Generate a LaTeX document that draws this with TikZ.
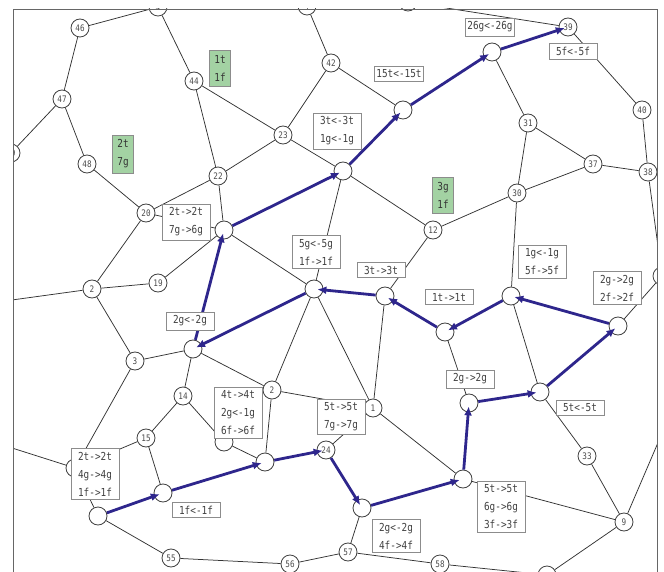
\documentclass[tikz,border=0pt]{standalone}
\usepackage{fontspec}
\usepackage{xcolor}
\usetikzlibrary{arrows.meta}
\newfontfamily\lblfont[FakeStretch=0.85]{DejaVu Sans Mono}
\definecolor{walkblue}{RGB}{46,38,140}
\definecolor{hintgreen}{RGB}{163,210,163}

\begin{document}
\begin{tikzpicture}[x=1pt,y=-1pt,
    vtx/.style={circle,draw=black!75,fill=white,minimum size=18pt,inner sep=0pt,line width=0.8pt,
        font=\lblfont\fontsize{9}{9}\selectfont,text=black!70},
    tag/.style={draw=black!45,fill=white,minimum width=48pt,inner xsep=2pt,inner ysep=3.5pt,
        align=center,font=\lblfont\fontsize{11}{18}\selectfont,text=black!75},
    hint/.style={tag,fill=hintgreen,minimum width=0pt,inner xsep=5pt,inner ysep=5pt,text=black!80},
    edge/.style={draw=black!80,line width=0.75pt},
    walk/.style={draw=walkblue,line width=2.8pt,-{Latex[length=9pt,width=8pt]},shorten >=-6pt}]

    \useasboundingbox (0,0) rectangle (664,572);
    \begin{scope}
    \clip (13,9) rectangle (657,580);

    % Draw the numbered vertices
    \foreach \n/\x/\y/\t in {n46/80/28/46, n47/62/99/47, n49/11/153/49, n48/87/164/48,
        n44/194/81/44, n22/218/176/22, n4/158/7/4, n42/331/63/42, n23/283/135/23,
        n43/307/6/4, n31/528/123/31, n37/593/164/37, n38/648/172/38, n40/642/110/40,
        n30/517/193/30, n12/433/230/12, n20/146/213/20, n19/158/283/19, n2/92/289/2,
        n3/135/361/3, n14/183/396/14, n15/146/438/15, n55/171/558/55, n56/290/564/56,
        n57/348/552/57, n58/440/564/58, n9/624/522/9, n33/587/456/33, n2b/272/390/2,
        n1/373/408/1, w4/326/450/24, w19/568/27/39}
        \node[vtx] (\n) at (\x,\y) {\t};

    % Draw the vertices with hidden numbers
    \foreach \n/\x/\y in {nT/408/2, nB/547/575, nR/662/276, nX/75/468, nY/224/442,
        w1/98/516, w2/163/493, w3/265/462, w5/362/508, w6/463/479, w7/469/403,
        w8/540/392, w9/618/326, w10/511/296, w11/445/332, w12/385/296, w13/314/289,
        w14/193/349, w15/224/230, w16/343/171, w17/403/110, w18/492/52}
        \node[vtx] (\n) at (\x,\y) {};

    % free ends outside the frame
    \coordinate (e1) at (-10,303);
    \coordinate (e2) at (-10,441);
    \coordinate (e3) at (690,368);

    % Draw edges
    \foreach \a/\b in {n46/n4, n46/n47, n47/n49, n47/n48, n48/n20, n4/n44, n4/n43, n43/nT,
        n44/n23, n44/n22, n22/n20, n22/n23, n22/w15, n43/n42, n42/n23, n42/w17, n23/w16,
        w16/n12, w16/w13, w15/w13, w15/n19, w15/n20, n20/n2, n2/n19, n2/e1, n2/n3,
        n3/w14, n3/nX, w14/n14, w14/n2b, n14/n15, n14/nY, nY/w3, n15/w2, n15/nX, nX/e2,
        nX/w1, w1/n55, n55/n56, n56/n57, n57/w5, n57/n58, n58/nB, nB/n9, n9/n33, n9/w6,
        n9/e3, n33/w8, w8/w10, w7/w11, w6/n1, n1/w12, n1/n2b, n1/w4, n1/w13, n2b/w3,
        n2b/w13, w12/n12, n12/n30, n30/n31, n30/n37, n30/w10, n31/w18, n31/n37,
        n37/n38, n38/n40, n40/w19, w19/nT, n38/nR, nR/w9}
        \draw[edge] (\a) -- (\b);

    % Draw the walk
    \foreach \a/\b in {w1/w2, w2/w3, w3/w4, w4/w5, w5/w6, w6/w7, w7/w8, w8/w9, w9/w10,
        w10/w11, w11/w12, w12/w13, w13/w14, w14/w15, w15/w16, w16/w17, w17/w18, w18/w19}
        \draw[walk] (\a) -- (\b);
    \end{scope}

    % Draw the frame
    \draw[black!60] (13,572) -- (13,9) -- (657,9) -- (657,572);

    % Draw the labels
    \node[tag] (lab1) at (490,27) {26g<-26g};
    \node[tag] (lab2) at (573,51) {5f<-5f};
    \node[tag] (lab3) at (399,74) {15t<-15t};
    \node[tag] (lab4) at (337,131) {3t<-3t\\1g<-1g};
    \node[tag] (lab5) at (186,222) {2t->2t\\7g->6g};
    \node[tag] (lab6) at (316,252) {5g<-5g\\1f->1f};
    \node[tag] (lab7) at (381,270) {3t->3t};
    \node[tag] (lab8) at (449,297) {1t->1t};
    \node[tag] (lab9) at (542,262) {1g<-1g\\5f->5f};
    \node[tag] (lab10) at (617,288) {2g->2g\\2f->2f};
    \node[tag] (lab11) at (190,321) {2g<-2g};
    \node[tag] (lab12) at (470,379) {2g->2g};
    \node[tag] (lab13) at (238,413) {4t->4t\\2g<-1g\\6f->6f};
    \node[tag] (lab14) at (341,417) {5t->5t\\7g->7g};
    \node[tag] (lab15) at (580,408) {5t<-5t};
    \node[tag] (lab16) at (95,474) {2t->2t\\4g->4g\\1f->1f};
    \node[tag] (lab17) at (196,510) {1f<-1f};
    \node[tag] (lab18) at (396,536) {2g<-2g\\4f->4f};
    \node[tag] (lab19) at (501,507) {5t->5t\\6g->6g\\3f->3f};

    % Draw the green hints
    \node[hint] (hint1) at (220,68) {1t\\1f};
    \node[hint] (hint2) at (123,154) {2t\\7g};
    \node[hint] (hint3) at (443,195) {3g\\1f};
\end{tikzpicture}
\end{document}
